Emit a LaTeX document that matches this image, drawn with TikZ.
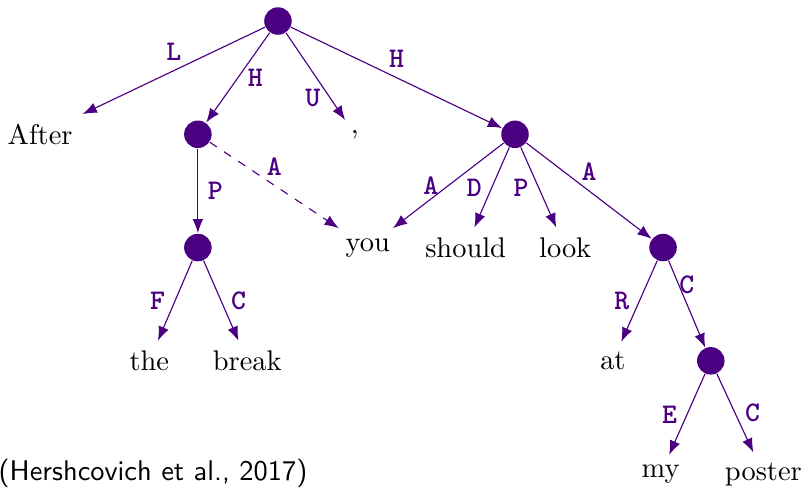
\documentclass[tikz,border=0pt]{standalone}
\usetikzlibrary{arrows.meta}
\definecolor{ucca}{RGB}{75,0,130}

\begin{document}
\begin{tikzpicture}[>={Latex[length=5pt, width=3.8pt]},
  unit/.style={circle, fill=ucca, inner sep=0pt, minimum size=3.4mm},
  word/.style={text=black},
  edge/.style={->, ucca},
  remote/.style={->, ucca, dashed},
  lbl/.style={font=\ttfamily\bfseries, text=ucca}]
  \useasboundingbox (-3.436,-5.773) rectangle (6.502,0.26);
  % units
  \node[unit] (root) at (0,0) {};
  \node[unit] (brk)  at (-0.99,-1.4) {};
  \node[unit] (brkp) at (-0.99,-2.8) {};
  \node[unit] (look) at (2.93,-1.4) {};
  \node[unit] (atp)  at (4.76,-2.8) {};
  \node[unit] (post) at (5.35,-4.2) {};
  % terminals
  \node[word] (w-after)  at (-2.94,-1.4) {After};
  \node[word] (w-comma)  at (0.95,-1.4) {,};
  \node[word] (w-you)    at (1.11,-2.8) {you};
  \node[word] (w-should) at (2.32,-2.8) {should};
  \node[word] (w-look)   at (3.55,-2.8) {look};
  \node[word] (w-the)    at (-1.59,-4.2) {the};
  \node[word] (w-break)  at (-0.38,-4.2) {break};
  \node[word] (w-at)     at (4.14,-4.2) {at};
  \node[word] (w-my)     at (4.73,-5.6) {my};
  \node[word] (w-poster) at (6.0,-5.6) {poster};
  % root edges
  \draw[edge] (root) -- node[lbl, above] {L} (w-after);
  \draw[edge] (root) -- node[lbl, right] {H} (brk);
  \draw[edge] (root) -- node[lbl, left, pos=0.75] {U} (w-comma);
  \draw[edge] (root) -- node[lbl, above] {H} (look);
  % after the break
  \draw[edge] (brk) -- node[lbl, right] {P} (brkp);
  \draw[remote] (brk) -- node[lbl, above] {A} (w-you);
  \draw[edge] (brkp) -- node[lbl, left] {F} (w-the);
  \draw[edge] (brkp) -- node[lbl, right] {C} (w-break);
  % you should look at my poster
  \draw[edge] (look) -- node[lbl, left] {A} (w-you);
  \draw[edge] (look) -- node[lbl, left] {D} (w-should);
  \draw[edge] (look) -- node[lbl, left] {P} (w-look);
  \draw[edge] (look) -- node[lbl, above] {A} (atp);
  \draw[edge] (atp) -- node[lbl, left] {R} (w-at);
  \draw[edge] (atp) -- node[lbl, above] {C} (post);
  \draw[edge] (post) -- node[lbl, left] {E} (w-my);
  \draw[edge] (post) -- node[lbl, right] {C} (w-poster);
  % citation
  \node[anchor=base west, inner sep=0pt, font=\sffamily] (cite)
    at (-3.46,-5.674) {(Hershcovich et al., 2017)};
\end{tikzpicture}
\end{document}
